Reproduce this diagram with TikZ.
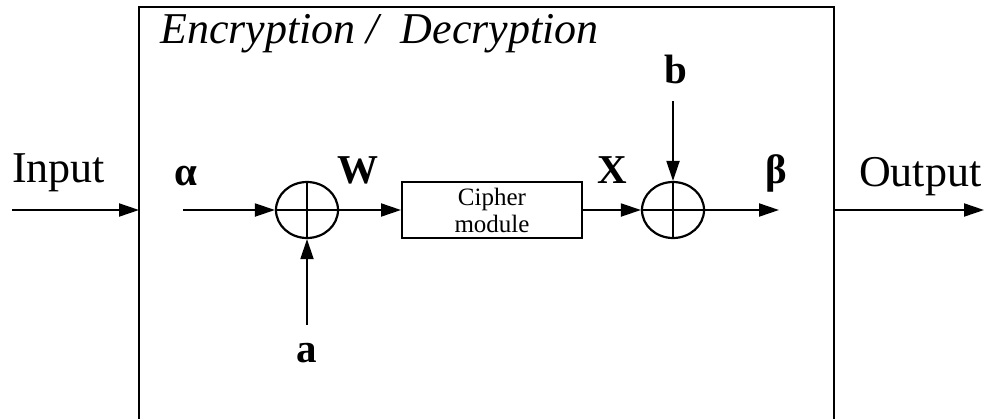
\documentclass[tikz,border=0pt]{standalone}
\usepackage{fontspec}
\setmainfont{Liberation Serif}
\usetikzlibrary{arrows.meta,shapes.geometric}
\begin{document}
\begin{tikzpicture}[x=1pt,y=-1pt,
  arr/.style={line width=2pt,-{Triangle[length=20pt,width=13pt]}},
  xor/.style={ellipse,draw,line width=2.2pt,minimum width=62pt,minimum height=56pt,inner sep=0pt},
  cbox/.style={rectangle,draw,line width=2pt,minimum width=180pt,minimum height=56pt,inner sep=0pt,align=center,font=\fontsize{25}{27}\selectfont},
  big/.style={font=\fontsize{44}{50}\selectfont,anchor=base,inner sep=0pt},
  lbl/.style={font=\fontsize{41}{46}\selectfont\bfseries,anchor=base,inner sep=0pt}]
\useasboundingbox (0,0) rectangle (984,418);
\clip (0,0) rectangle (984,418);
\draw[line width=1.2pt] (139,7) rectangle (834,450);
\node[big,font=\fontsize{44}{50}\selectfont\itshape,anchor=base west] (title) at (160,43) {Encryption /\ \ Decryption};
\node[big,anchor=base west] (inp) at (12,182) {Input};
\node[big,anchor=base west] (outp) at (859,186) {Output};
\node[xor] (x1) at (307,210) {};
\node[xor] (x2) at (673,210) {};
\draw[line width=2pt] (x1.north)--(x1.south) (x1.west)--(x1.east);
\draw[line width=2pt] (x2.north)--(x2.south) (x2.west)--(x2.east);
\node[cbox] (cm) at (492,210) {Cipher\\module};
\coordinate (ins) at (12,210);
\coordinate (boxl) at (139,210);
\coordinate (als) at (183,210);
\coordinate (bee) at (779,210);
\coordinate (outs) at (834,210);
\coordinate (oute) at (984,210);
\coordinate (bs) at (673,101);
\coordinate (as) at (307,325);
\draw[arr] (ins) -- (boxl);
\draw[arr] (als) -- (x1.west);
\draw[arr] (x1.east) -- (cm.west);
\draw[arr] (cm.east) -- (x2.west);
\draw[arr] (x2.east) -- (bee);
\draw[arr] (outs) -- (oute);
\draw[arr] (bs) -- (x2.north);
\draw[arr] (as) -- (x1.south);
\node[lbl] (alpha) at (186,185) {α};
\node[lbl] (w) at (358,183) {W};
\node[lbl] (xl) at (612,183) {X};
\node[lbl] (beta) at (776,183) {β};
\node[lbl] (b) at (676,83) {b};
\node[lbl] (a) at (307,362) {a};
\end{tikzpicture}
\end{document}
